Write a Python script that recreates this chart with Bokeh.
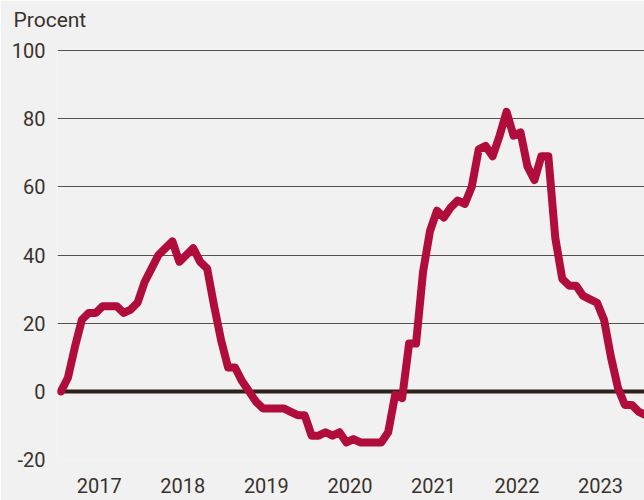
from bokeh.plotting import figure
from bokeh.models import FixedTicker, Title
from bokeh.embed import file_html
from bokeh.resources import INLINE

# ---- data (monthly, Jan 2017 onwards, percent) ----
start_year = 2017
values = [
    0, 4, 13, 21, 23, 23, 25, 25, 25, 23, 24, 26,        # 2017
    32, 36, 40, 42, 44, 38, 40, 42, 38, 36, 25, 15,      # 2018
    7, 7, 3, 0, -3, -5, -5, -5, -5, -6, -7, -7,          # 2019
    -13, -13, -12, -13, -12, -15, -14, -15, -15, -15, -15, -12,  # 2020
    -1, -2, 14, 14, 35, 47, 53, 51, 54, 56, 55, 60,      # 2021
    71, 72, 69, 75, 82, 75, 76, 66, 62, 69, 69, 45,      # 2022
    33, 31, 31, 28, 27, 26, 21, 10, 1, -4, -4, -6,       # 2023
    -7,                                                  # 2024
]
year_labels = ["2017", "2018", "2019", "2020", "2021", "2022", "2023"]
y_ticks = [-20, 0, 20, 40, 60, 80, 100]
y_tick_labels = ["-20", "0", "20", "40", "60", "80", "100"]
title_text = "Procent"

# ---- styling ----
bg = "#f0f1f0"
txt = "#3a322d"
grid_col = "#5a504a"
line_col = "#b10d3c"
font = "Roboto"

x = [start_year + (i + 0.5) / 12 for i in range(len(values))]
x_ticks = [int(y) + 0.5 for y in year_labels]

p = figure(
    width=644, height=500,
    x_range=(2017.0, 2024.026), y_range=(-20, 100.3),
    output_backend="svg", toolbar_location=None,
    min_border_left=57, min_border_right=0, min_border_top=49, min_border_bottom=41,
    background_fill_color=bg, border_fill_color=bg, outline_line_color=None,
)

# spacer panel next to the frame, then the unit title above it
p.add_layout(Title(text=" ", text_font=font, text_font_size="12px", standoff=0,
                   text_color=bg), "above")
p.add_layout(Title(text=title_text, align="left", offset=-44, standoff=4,
                   text_font=font, text_font_size="21px", text_font_style="normal",
                   text_color=txt), "above")

# grid
p.xgrid.grid_line_color = None
p.ygrid.ticker = FixedTicker(ticks=y_ticks)
p.ygrid.grid_line_color = grid_col
p.ygrid.grid_line_width = 1

# axes
p.xaxis.ticker = FixedTicker(ticks=x_ticks)
p.xaxis.major_label_overrides = {t: lab for t, lab in zip(x_ticks, year_labels)}
p.yaxis.ticker = FixedTicker(ticks=y_ticks)
p.yaxis.major_label_overrides = {t: lab for t, lab in zip(y_ticks, y_tick_labels)}
for ax in (p.xaxis, p.yaxis):
    ax.axis_line_color = None
    ax.major_tick_line_color = None
    ax.minor_tick_line_color = None
    ax.major_label_text_font = font
    ax.major_label_text_font_size = "20px"
    ax.major_label_text_color = txt
p.xaxis.major_label_standoff = 12
p.yaxis.major_label_standoff = 6

# zero line then data line
p.hspan(y=[0], line_width=4, line_color="#2e231b")
p.line(x, values, line_width=8, line_color=line_col, line_join="round", line_cap="round")

open("out.html", "w").write(file_html(p, INLINE))
